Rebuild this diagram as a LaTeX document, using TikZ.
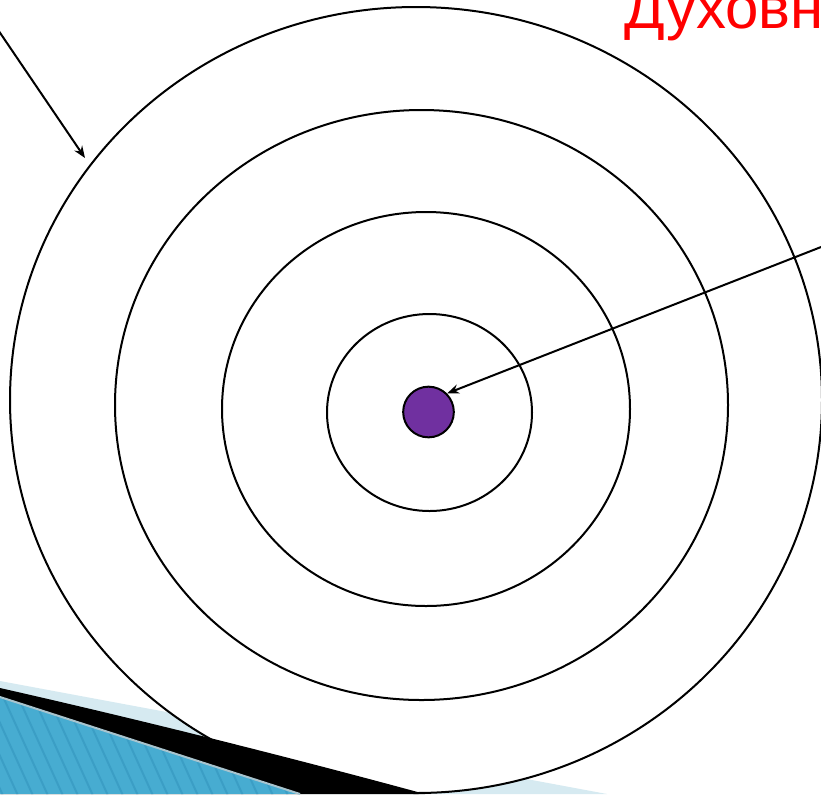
\documentclass[tikz,border=0pt]{standalone}
\usepackage{fontspec}
\setmainfont{Liberation Sans}
\usetikzlibrary{arrows.meta}
\definecolor{corepurple}{HTML}{7030A0}
\definecolor{bandlight}{HTML}{D6EAF1}
\definecolor{bandblue}{HTML}{47ACD1}
\definecolor{bandstripe}{HTML}{3B9EC5}
\definecolor{bandgray}{HTML}{A8C4CE}

\begin{document}
\begin{tikzpicture}[x=0.75pt, y=-0.75pt,
    ring/.style={draw, line width=1.5pt, fill=white},
    arr/.style={-{Stealth[length=9pt,width=7pt,inset=3pt]}, line width=1.5pt}
  ]
  \clip (0,0) rectangle (821,794);
  \fill[white] (0,0) rectangle (821,794);

  % corner band behind the rings
  \fill[bandlight] (0,681) -- (607,794) -- (0,794) -- cycle;

  % rings
  \draw[ring] (416,400) ellipse [x radius=406, y radius=393];
  \draw[ring] (421.5,405) ellipse [x radius=306.5, y radius=295];
  \draw[ring] (426,409) ellipse [x radius=204, y radius=197];
  \draw[ring] (429.5,412.5) ellipse [x radius=102.5, y radius=98.5];

  \node[draw, circle, fill=corepurple, line width=1.5pt, inner sep=0pt,
        minimum size=38pt] (core) at (428.5,412) {};

  % corner band in front
  \fill[black] (0,688) .. controls (150,722) and (300,760) .. (425,794)
    -- (0,794) -- cycle;
  \begin{scope}
    \clip (0,697) -- (300,794) -- (0,794) -- cycle;
    \fill[bandblue] (0,690) rectangle (310,794);
    \foreach \i in {-20,...,25}
      \draw[bandstripe, line width=1.5pt] (\i*15,690) -- ++(50,110);
  \end{scope}
  \draw[bandgray, line width=1.5pt] (0,697) -- (300,794);

  \node[anchor=base west, inner sep=0pt, text=red,
        font=\fontsize{45}{50}\selectfont] (title) at (624,28.5) {Духовн};

  \coordinate (lstart) at (-10,18);
  \coordinate (ltip) at (85,158);
  \coordinate (rstart) at (830,243.5);

  \draw[arr] (lstart) -- (ltip);
  \draw[arr] (rstart) -- (core.45);
\end{tikzpicture}
\end{document}
